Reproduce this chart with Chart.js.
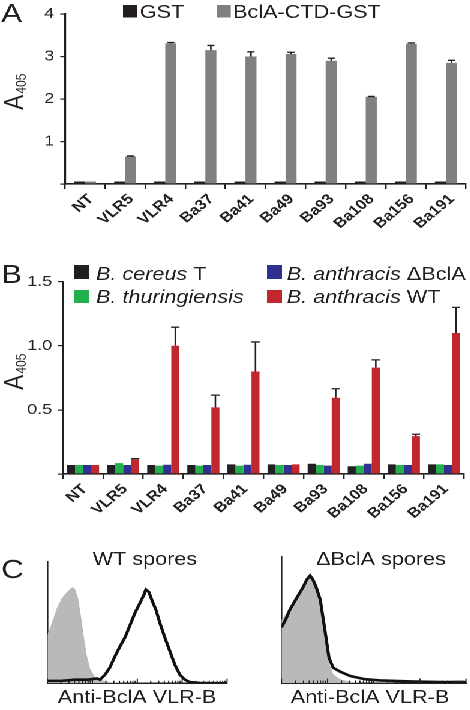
<!DOCTYPE html>
<html>
<head>
<meta charset="utf-8">
<script src="https://cdn.jsdelivr.net/npm/chart.js@4.4.1/dist/chart.umd.min.js"></script>
<style>
    html, body { margin: 0; padding: 0; background: #fff; }
    /* the source figure is stretched sideways, so draw narrow and widen */
    #fig { position: relative; width: 392px; height: 710px; transform: scaleX(1.2); transform-origin: 0 0; }
    .panel { position: absolute; }
</style>
</head>
<body>
<div id="fig">
    <div class="panel" style="left:0;top:0;width:392px;height:240px"><canvas id="chartA"></canvas></div>
    <div class="panel" style="left:0;top:240px;width:392px;height:280px"><canvas id="chartB"></canvas></div>
    <div class="panel" style="left:0;top:540px;width:196px;height:170px"><canvas id="chartC1"></canvas></div>
    <div class="panel" style="left:196px;top:540px;width:196px;height:170px"><canvas id="chartC2"></canvas></div>
</div>
<script>
const categories = ["NT", "VLR5", "VLR4", "Ba37", "Ba41", "Ba49", "Ba93", "Ba108", "Ba156", "Ba191"];

// panel A
const gstValues = [0.06, 0.06, 0.06, 0.06, 0.06, 0.06, 0.06, 0.06, 0.06, 0.06];
const bclaValues = [0.06, 0.65, 3.31, 3.15, 3.0, 3.06, 2.9, 2.05, 3.3, 2.85];
const bclaErrors = [0, 0.01, 0.02, 0.11, 0.11, 0.04, 0.06, 0.01, 0.02, 0.06];
const yTicksA = [0, 1, 2, 3, 4];

// panel B
const cereusValues = [0.07, 0.07, 0.07, 0.07, 0.075, 0.075, 0.08, 0.06, 0.075, 0.075];
const thuringValues = [0.07, 0.085, 0.065, 0.065, 0.065, 0.07, 0.07, 0.065, 0.07, 0.075];
const deltaValues = [0.07, 0.07, 0.072, 0.07, 0.072, 0.07, 0.065, 0.08, 0.07, 0.07];
const wtValues = [0.07, 0.115, 1.0, 0.52, 0.8, 0.075, 0.595, 0.83, 0.295, 1.1];
const wtErrors = [0, 0.005, 0.145, 0.095, 0.23, 0, 0.07, 0.06, 0.015, 0.2];
const yTicksB = [0, 0.5, 1.0, 1.5];

// panel C, x in log decades, y in % of axis height
const wtGrayX = [0, 0.1, 0.21, 0.32, 0.43, 0.55, 0.61, 0.68, 0.75, 0.81, 0.88, 0.95, 1.06, 1.17, 1.39, 1.61, 1.8];
const wtGrayY = [40, 50, 62, 70, 75, 79, 78, 70, 54, 38, 22, 12, 5, 3, 1, 0.3, 0];
const wtLineX = [0, 0.3, 0.6, 0.9, 1.1, 1.17, 1.28, 1.39, 1.5, 1.61, 1.73, 1.84, 1.95, 2.06, 2.15, 2.19, 2.26, 2.33, 2.42, 2.5, 2.62, 2.73, 2.84, 2.95, 3.06, 3.17, 3.4, 4];
const wtLineY = [2, 2, 3, 3, 4, 3, 7, 13, 22, 30, 38, 48, 58, 66, 73, 77, 75, 68, 60, 50, 37, 26, 15, 7, 3, 1, 0.3, 0];
const dGrayX = [0, 0.18, 0.34, 0.47, 0.55, 0.62, 0.68, 0.75, 0.84, 0.9, 0.97, 1.03, 1.12, 1.27, 1.49, 1.7];
const dGrayY = [50, 59, 70, 78, 83, 86, 83, 79, 67, 50, 30, 16, 7, 3, 1, 0];
const dLineX = [0, 0.1, 0.18, 0.34, 0.47, 0.55, 0.62, 0.68, 0.75, 0.84, 0.94, 1.03, 1.12, 1.27, 1.49, 1.81, 2.14, 2.79, 3.44, 4];
const dLineY = [44, 51, 58, 68, 76, 82, 85, 82, 76, 66, 42, 20, 12, 9, 5.5, 3, 2, 1.2, 0.8, 0.8];

const INK = "#231f20";
const FONT = '"Liberation Sans", Arial, sans-serif';

Chart.defaults.font.family = FONT;
Chart.defaults.color = INK;
Chart.defaults.animation = false;

function drawRich(ctx, x, y, parts, size) {
    parts.forEach(p => {
        ctx.font = (p.italic ? "italic " : "") + size + "px " + FONT;
        ctx.fillText(p.text, x, y);
        x += ctx.measureText(p.text).width;
    });
}

function drawA405(ctx, x, y) {
    ctx.save();
    ctx.translate(x, y);
    ctx.rotate(-Math.PI / 2);
    ctx.fillStyle = INK;
    ctx.textAlign = "left";
    ctx.font = "23px " + FONT;
    ctx.fillText("A", 0, 0);
    const w = ctx.measureText("A").width;
    ctx.font = "12px " + FONT;
    ctx.fillText("405", w + 1, 2);
    ctx.restore();
}

function legendBox(ctx, x, y, w, h, color) {
    ctx.fillStyle = color;
    ctx.fillRect(x, y, w, h);
    ctx.fillStyle = INK;
}

const errorBars = {
    id: "errorBars",
    afterDatasetsDraw(chart, args, opts) {
        const { ctx, scales: { y } } = chart;
        ctx.save();
        ctx.strokeStyle = INK;
        ctx.lineWidth = opts.lineWidth;
        chart.data.datasets.forEach((ds, i) => {
            if (!ds.errors) return;
            chart.getDatasetMeta(i).data.forEach((bar, j) => {
                const err = ds.errors[j];
                if (!err) return;
                const top = y.getPixelForValue(ds.data[j] + err);
                const half = opts.cap / 2;
                ctx.beginPath();
                ctx.moveTo(bar.x, bar.y);
                ctx.lineTo(bar.x, top);
                ctx.moveTo(bar.x - half, top);
                ctx.lineTo(bar.x + half, top);
                ctx.stroke();
            });
        });
        ctx.restore();
    }
};

function barScales(yTicks, yLabel, yWidth, xHeight, labelShift) {
    return {
        x: {
            grid: { display: true, drawOnChartArea: false, tickLength: 5, color: INK, lineWidth: 1.2 },
            border: { color: INK, width: 1.6 },
            ticks: { font: { size: 14, weight: "bold" }, color: INK, minRotation: 45, maxRotation: 45, padding: 2, labelOffset: labelShift },
            afterFit(scale) { scale.height = xHeight; }
        },
        y: {
            min: yTicks[0],
            max: yTicks[yTicks.length - 1],
            afterBuildTicks(scale) { scale.ticks = yTicks.map(v => ({ value: v })); },
            grid: { display: true, drawOnChartArea: false, tickLength: 4, color: INK, lineWidth: 1.2 },
            border: { color: INK, width: 1.6 },
            ticks: { font: { size: 15 }, color: INK, padding: 5, callback: yLabel },
            afterFit(scale) { scale.width = yWidth; }
        }
    };
}

// ---------- A ----------
const textA = {
    id: "textA",
    afterDraw(chart) {
        const ctx = chart.ctx;
        ctx.save();
        ctx.fillStyle = INK;
        ctx.textBaseline = "alphabetic";
        ctx.font = "26px " + FONT;
        ctx.fillText("A", 1, 22);
        legendBox(ctx, 102.5, 5, 11.5, 12.5, INK);
        ctx.font = "18px " + FONT;
        ctx.fillText("GST", 116.5, 18);
        legendBox(ctx, 180.8, 5, 11.5, 12.5, "#808080");
        ctx.fillText("BclA-CTD-GST", 194.2, 18);
        ctx.restore();
        drawA405(ctx, 19.5, 110);
    }
};

new Chart(document.getElementById("chartA"), {
    type: "bar",
    data: {
        labels: categories,
        datasets: [
            { label: "GST", data: gstValues, backgroundColor: INK, categoryPercentage: 0.55, barPercentage: 1 },
            { label: "BclA-CTD-GST", data: bclaValues, errors: bclaErrors, backgroundColor: "#808080", categoryPercentage: 0.55, barPercentage: 1 }
        ]
    },
    options: {
        responsive: true,
        maintainAspectRatio: false,
        devicePixelRatio: 2,
        layout: { padding: { top: 7.5, right: 3.7, left: 0, bottom: 0 } },
        plugins: {
            legend: { display: false },
            tooltip: { enabled: false },
            errorBars: { cap: 6, lineWidth: 1.3 }
        },
        scales: barScales(yTicksA, v => v === 0 ? "" : String(v), 54.2, 56, 5)
    },
    plugins: [errorBars, textA]
});

// ---------- B ----------
const textB = {
    id: "textB",
    afterDraw(chart) {
        const ctx = chart.ctx;
        ctx.save();
        ctx.fillStyle = INK;
        ctx.textBaseline = "alphabetic";
        ctx.font = "26px " + FONT;
        ctx.fillText("B", 1, 43);
        legendBox(ctx, 61.7, 25, 12.5, 14, INK);
        drawRich(ctx, 80, 40, [{ text: "B. cereus", italic: true }, { text: " T" }], 18);
        legendBox(ctx, 61.7, 50, 12.5, 13, "#22b14c");
        drawRich(ctx, 80, 63, [{ text: "B. thuringiensis", italic: true }], 18);
        legendBox(ctx, 222.5, 25, 12.5, 14, "#2e3192");
        drawRich(ctx, 239, 40, [{ text: "B. anthracis", italic: true }, { text: " \u0394BclA" }], 18);
        legendBox(ctx, 222.5, 50, 12.5, 13, "#c1272d");
        drawRich(ctx, 239, 63, [{ text: "B. anthracis", italic: true }, { text: " WT" }], 18);
        ctx.restore();
        drawA405(ctx, 19.5, 150);
    }
};

const barB = { categoryPercentage: 0.8, barPercentage: 1 };
new Chart(document.getElementById("chartB"), {
    type: "bar",
    data: {
        labels: categories,
        datasets: [
            { label: "B. cereus T", data: cereusValues, backgroundColor: INK, ...barB },
            { label: "B. thuringiensis", data: thuringValues, backgroundColor: "#22b14c", ...barB },
            { label: "B. anthracis \u0394BclA", data: deltaValues, backgroundColor: "#2e3192", ...barB },
            { label: "B. anthracis WT", data: wtValues, errors: wtErrors, backgroundColor: "#c1272d", ...barB }
        ]
    },
    options: {
        responsive: true,
        maintainAspectRatio: false,
        devicePixelRatio: 2,
        layout: { padding: { top: 41.7, right: 5.3, left: 0, bottom: 0 } },
        plugins: {
            legend: { display: false },
            tooltip: { enabled: false },
            errorBars: { cap: 7, lineWidth: 1.3 }
        },
        scales: barScales(yTicksB, v => v === 0 ? "" : v.toFixed(1), 52.5, 46, 1.5)
    },
    plugins: [errorBars, textB]
});

// ---------- C ----------
const logTicks = {
    id: "logTicks",
    afterDraw(chart) {
        const { ctx, scales: { x } } = chart;
        const base = chart.chartArea.bottom;
        ctx.save();
        ctx.strokeStyle = INK;
        ctx.lineWidth = 1;
        ctx.beginPath();
        for (let d = 0; d <= 4; d++) {
            for (let k = 1; k <= (d === 4 ? 1 : 9); k++) {
                const px = x.getPixelForValue(d + Math.log10(k));
                const len = k === 1 ? 4.5 : 2.5;
                ctx.moveTo(px, base);
                ctx.lineTo(px, base - len);
            }
        }
        ctx.stroke();
        ctx.restore();
    }
};

function histogram(canvasId, grayX, grayY, lineX, lineY, title, geo) {
    const labelsPlugin = {
        id: "labels" + canvasId,
        afterDraw(chart) {
            const ctx = chart.ctx;
            ctx.save();
            ctx.fillStyle = INK;
            ctx.textAlign = "center";
            ctx.font = "18px " + FONT;
            ctx.fillText(title, geo.titleX, 25);
            ctx.fillText("Anti-BclA VLR-B", geo.labelX, 163);
            if (geo.letter) {
                ctx.textAlign = "left";
                ctx.font = "26px " + FONT;
                ctx.fillText(geo.letter, 1, 38);
            }
            ctx.restore();
        }
    };
    new Chart(document.getElementById(canvasId), {
        type: "line",
        data: {
            datasets: [
                {
                    label: "isotype",
                    data: grayX.map((x, i) => ({ x, y: grayY[i] })),
                    borderWidth: 0,
                    backgroundColor: "#b9b9b9",
                    fill: "origin",
                    pointRadius: 0,
                    order: 2
                },
                {
                    label: "Anti-BclA VLR-B",
                    data: lineX.map((x, i) => ({ x, y: lineY[i] })),
                    borderColor: "#111",
                    borderWidth: 2.6,
                    fill: false,
                    pointRadius: 0,
                    order: 1
                }
            ]
        },
        options: {
            responsive: true,
            maintainAspectRatio: false,
            devicePixelRatio: 2,
            layout: { padding: { top: geo.top, right: geo.right, left: 0, bottom: 0 } },
            elements: { line: { tension: 0 } },
            plugins: { legend: { display: false }, tooltip: { enabled: false } },
            scales: {
                x: {
                    type: "linear", min: 0, max: 4,
                    grid: { display: false },
                    ticks: { display: false },
                    border: { color: INK, width: 1.5 },
                    afterFit(scale) { scale.height = geo.xHeight; }
                },
                y: {
                    min: 0, max: 100,
                    grid: { display: false },
                    ticks: { display: false },
                    border: { color: INK, width: 1.3 },
                    afterFit(scale) { scale.width = geo.left; }
                }
            }
        },
        plugins: [logTicks, labelsPlugin]
    });
}

histogram("chartC1", wtGrayX, wtGrayY, wtLineX, wtLineY, "WT spores",
    { top: 21.7, right: 6.8, left: 39.6, xHeight: 26.7, titleX: 120.8, labelX: 114.2, letter: "C" });
histogram("chartC2", dGrayX, dGrayY, dLineX, dLineY, "\u0394BclA spores",
    { top: 16.7, right: 3.7, left: 38.6, xHeight: 27, titleX: 121.5, labelX: 112.3 });
</script>
</body>
</html>
